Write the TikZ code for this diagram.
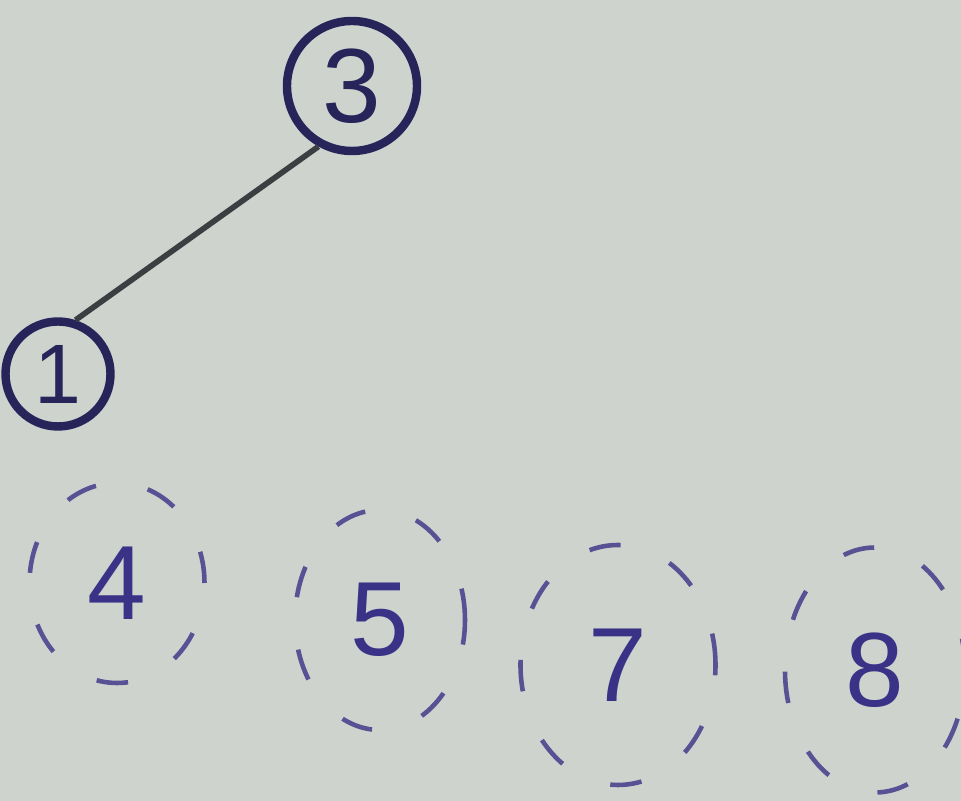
\documentclass[tikz,border=0pt]{standalone}
\usepackage{fontspec}
\setmainfont{Liberation Sans}
\usetikzlibrary{shapes.geometric}
\definecolor{paper}{RGB}{206,211,206}
\definecolor{ink}{RGB}{38,36,88}
\definecolor{pen}{RGB}{58,50,135}
\definecolor{lead}{RGB}{60,62,66}
\tikzset{
  keptnode/.style={circle, draw=ink, line width=2.4pt, text=ink, inner sep=0pt,
    font=\fontsize{30}{32}\selectfont},
  freenode/.style={ellipse, draw=pen!80!paper, line width=1.3pt, inner sep=0pt,
    dash pattern=on 9pt off 15pt, text=pen,
    font=\fontsize{30}{32}\selectfont}}

\begin{document}
\begin{tikzpicture}
  \useasboundingbox (0,0) rectangle (9.61,-8.01);
  \fill[paper] (0,0) rectangle (9.61,-8.01);
  % tree built so far
  \node[keptnode, minimum size=1.3cm] (n3) at (3.52,-0.86) {3};
  \node[keptnode, minimum size=1.05cm, font=\fontsize{24}{26}\selectfont] (n1) at (0.58,-3.74) {1};
  \draw[lead, line width=1.6pt] (n3.241) -- (n1.72);
  % vertices not yet joined
  \node[freenode, minimum width=1.75cm, minimum height=2.0cm] (n4) at (1.17,-5.83) {4};
  \node[freenode, minimum width=1.7cm, minimum height=2.2cm] (n5) at (3.80,-6.20) {5};
  \node[freenode, minimum width=1.95cm, minimum height=2.4cm] (n7) at (6.18,-6.65) {7};
  \node[freenode, minimum width=1.8cm, minimum height=2.45cm] (n8) at (8.75,-6.70) {8};
\end{tikzpicture}
\end{document}
